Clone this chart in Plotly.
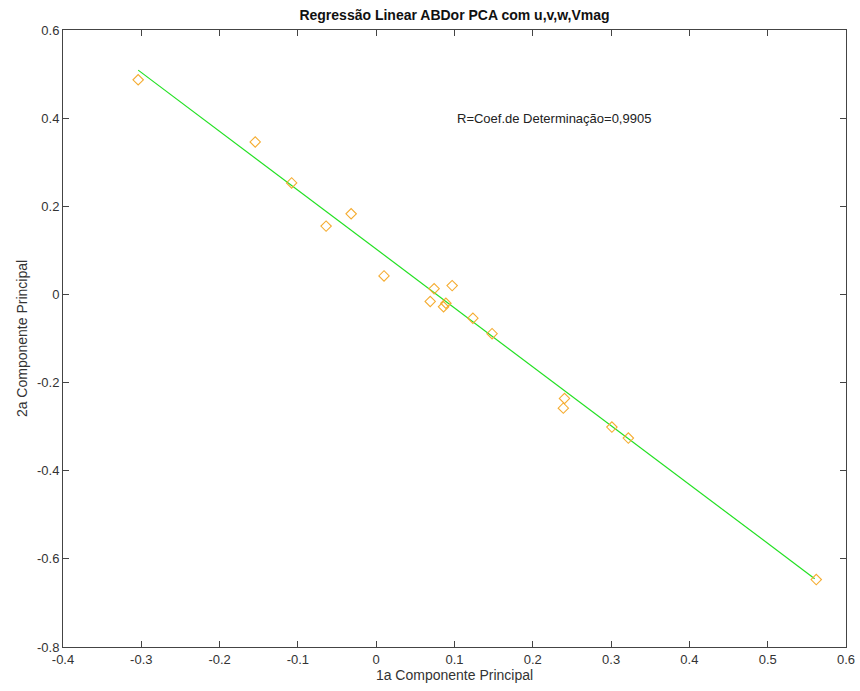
import plotly.graph_objects as go

# Data
pc1 = [-0.304, -0.1545, -0.108, -0.064, -0.032, 0.010, 0.074, 0.069, 0.097, 0.089, 0.086,
       0.1235, 0.148, 0.2405, 0.239, 0.301, 0.322, 0.562]
pc2 = [0.487, 0.346, 0.253, 0.155, 0.183, 0.042, 0.013, -0.016, 0.020, -0.020, -0.028,
       -0.054, -0.089, -0.236, -0.258, -0.301, -0.326, -0.647]

fit_x = [-0.304, 0.560]
fit_y = [0.509, -0.645]

x_ticks = [-0.4, -0.3, -0.2, -0.1, 0, 0.1, 0.2, 0.3, 0.4, 0.5, 0.6]
y_ticks = [-0.8, -0.6, -0.4, -0.2, 0, 0.2, 0.4, 0.6]

FONT = "Liberation Sans, Arial, sans-serif"

fig = go.Figure()
fig.add_trace(go.Scatter(x=fit_x, y=fit_y, mode="lines",
                         line=dict(color="#22e022", width=1.2), showlegend=False))
fig.add_trace(go.Scatter(x=pc1, y=pc2, mode="markers",
                         marker=dict(symbol="diamond-open", size=8,
                                     color="#f5ac30", line=dict(width=1.1, color="#f5ac30")),
                         showlegend=False))

fig.add_annotation(x=0.101, y=0.400, xref="x", yref="y", xanchor="left", yanchor="middle",
                   text="R=Coef.de Determinação=0,9905", showarrow=False,
                   font=dict(family=FONT, size=13, color="#222"))

axis_common = dict(showgrid=False, zeroline=False, showline=True, linecolor="#444",
                   linewidth=1, mirror="allticks", ticks="inside", ticklen=6,
                   tickcolor="#444", automargin=False,
                   tickfont=dict(family=FONT, size=13, color="#333"))

fig.update_layout(
    width=860, height=691,
    margin=dict(l=63, r=14, t=30, b=44),
    paper_bgcolor="white", plot_bgcolor="white",
    title=dict(text="<b>Regressão Linear ABDor PCA com u,v,w,Vmag</b>",
               x=(63 + 846) / 2 / 860, xanchor="center", y=1 - 15 / 691, yanchor="middle",
               font=dict(family=FONT, size=14, color="#111")),
    xaxis=dict(range=[-0.4, 0.6], tickvals=x_ticks,
               ticktext=[f"{v:g}" for v in x_ticks],
               title=dict(text="1a Componente Principal", standoff=4,
                          font=dict(family=FONT, size=14, color="#333")),
               **axis_common),
    yaxis=dict(range=[-0.8, 0.6], tickvals=y_ticks,
               ticktext=[f"{v:g}" for v in y_ticks],
               title=dict(text="2a Componente Principal", standoff=6,
                          font=dict(family=FONT, size=14, color="#333")),
               **axis_common),
)

fig.write_html("out.html")
